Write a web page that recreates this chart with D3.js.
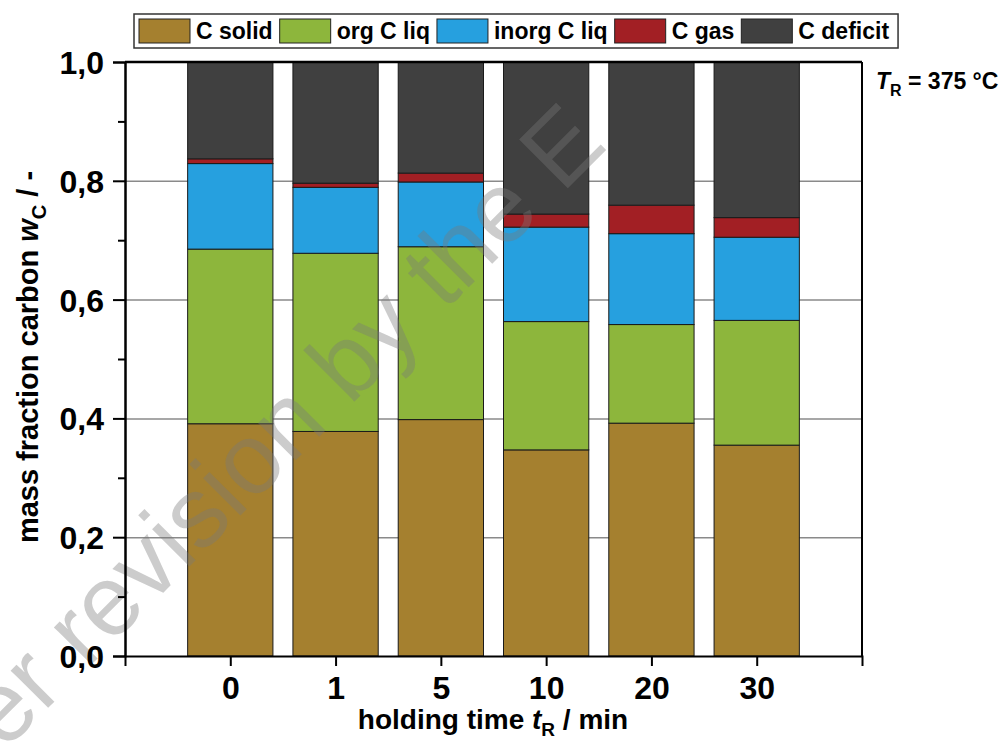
<!DOCTYPE html>
<html lang="en">

<head>
    <meta charset="UTF-8">
    <title>Carbon mass fraction</title>
    <script src="https://d3js.org/d3.v7.min.js"></script>
    <style>
        body {
            margin: 0;
            background: #fff;
        }

        text {
            font-family: "Liberation Sans", Arial, sans-serif;
            font-weight: bold;
            fill: #000;
        }

        .gridlines line {
            stroke: #8a8a8a;
            stroke-width: 1.5px;
        }

        .gridlines .domain {
            display: none;
        }

        .axis path,
        .axis line {
            stroke: #000;
            stroke-width: 2px;
        }

        .bar {
            stroke: #1a1a1a;
            stroke-width: 1px;
        }
    </style>
</head>

<body>
    <svg id="chart" width="1006" height="742"></svg>

    <script>
        // holding time categories (min)
        const holdingTimes = ['0', '1', '5', '10', '20', '30'];

        // carbon mass fractions per series
        const cSolid = [0.391, 0.378, 0.398, 0.347, 0.392, 0.355];
        const orgCLiq = [0.294, 0.300, 0.291, 0.216, 0.166, 0.210];
        const inorgCLiq = [0.144, 0.111, 0.109, 0.159, 0.153, 0.140];
        const cGas = [0.008, 0.007, 0.015, 0.022, 0.048, 0.033];
        const cDeficit = [0.163, 0.204, 0.187, 0.256, 0.241, 0.262];

        const seriesNames = ['C solid', 'org C liq', 'inorg C liq', 'C gas', 'C deficit'];
        const seriesColors = ['#A5802F', '#8DB63C', '#26A0DF', '#A21F24', '#404040'];
        const yTicks = [0, 0.2, 0.4, 0.6, 0.8, 1.0];
        const yMinorTicks = [0.1, 0.3, 0.5, 0.7, 0.9];

        const svg = d3.select('#chart');
        const plot = { left: 125, right: 862, top: 62, bottom: 656 };

        // build rows for the stack
        const seriesValues = [cSolid, orgCLiq, inorgCLiq, cGas, cDeficit];
        let rows = holdingTimes.map((t, i) => {
            let row = { time: t };
            seriesNames.forEach((s, j) => row[s] = seriesValues[j][i]);
            return row;
        });
        let stacked = d3.stack().keys(seriesNames)(rows);

        const xScale = d3.scalePoint()
            .domain(holdingTimes)
            .range([plot.left, plot.right])
            .padding(1);
        const barWidth = xScale.step() * 0.81;

        const yScale = d3.scaleLinear()
            .domain([0, 1])
            .range([plot.bottom, plot.top]);

        const colorScale = d3.scaleOrdinal().domain(seriesNames).range(seriesColors);

        // gridlines behind the bars
        svg.append('g')
            .attr('class', 'gridlines')
            .attr('transform', `translate(${plot.left},0)`)
            .call(d3.axisLeft(yScale)
                .tickValues([0.2, 0.4, 0.6, 0.8])
                .tickSize(-(plot.right - plot.left))
                .tickFormat(''));

        // stacked bars
        svg.append('g').selectAll('g')
            .data(stacked)
            .join('g')
            .attr('fill', d => colorScale(d.key))
            .selectAll('rect')
            .data(d => d)
            .join('rect')
            .attr('class', 'bar')
            .attr('x', d => xScale(d.data.time) - barWidth / 2)
            .attr('y', d => yScale(d[1]))
            .attr('width', barWidth)
            .attr('height', d => yScale(d[0]) - yScale(d[1]));

        // faint diagonal watermark
        svg.append('text')
            .attr('transform', 'translate(4,752) rotate(-45)')
            .style('font-size', '100px')
            .style('font-weight', 'normal')
            .style('fill', 'rgba(120,120,120,0.38)')
            .text('er revision by the E');

        // frame: top and right lines
        svg.append('line')
            .attr('x1', plot.left).attr('x2', plot.right)
            .attr('y1', yScale(1)).attr('y2', yScale(1))
            .attr('stroke', '#000').attr('stroke-width', 2.5);
        svg.append('line')
            .attr('x1', plot.right).attr('x2', plot.right)
            .attr('y1', yScale(1)).attr('y2', plot.bottom)
            .attr('stroke', '#000').attr('stroke-width', 2);

        // minor y ticks
        svg.append('g')
            .attr('class', 'axis')
            .attr('transform', `translate(${plot.left},0)`)
            .call(d3.axisLeft(yScale).tickValues(yMinorTicks).tickSize(7).tickSizeOuter(0).tickFormat(''));

        // y axis
        let yAxis = svg.append('g')
            .attr('class', 'axis')
            .attr('transform', `translate(${plot.left},0)`)
            .call(d3.axisLeft(yScale)
                .tickValues(yTicks)
                .tickSize(12)
                .tickSizeOuter(12)
                .tickPadding(9)
                .tickFormat(d => d3.format('.1f')(d).replace('.', ',')));
        yAxis.selectAll('text')
            .style('font-size', '32px')
            .attr('dy', '0.36em');

        // x axis
        let xAxis = svg.append('g')
            .attr('class', 'axis')
            .attr('transform', `translate(0,${plot.bottom})`)
            .call(d3.axisBottom(xScale)
                .tickSize(10)
                .tickSizeOuter(10)
                .tickPadding(10));
        xAxis.selectAll('text')
            .style('font-size', '32px');

        // axis titles
        let xTitle = svg.append('text')
            .attr('x', 493)
            .attr('y', 729)
            .attr('text-anchor', 'middle')
            .style('font-size', '28px');
        xTitle.append('tspan').text('holding time ');
        xTitle.append('tspan').style('font-style', 'italic').text('t');
        xTitle.append('tspan').attr('dy', 7).style('font-size', '19px').text('R');
        xTitle.append('tspan').attr('dy', -7).text(' / min');

        let yTitle = svg.append('text')
            .attr('transform', 'translate(38,357) rotate(-90)')
            .attr('text-anchor', 'middle')
            .style('font-size', '29px');
        yTitle.append('tspan').text('mass fraction carbon ');
        yTitle.append('tspan').style('font-style', 'italic').text('w');
        yTitle.append('tspan').attr('dy', 8).style('font-size', '20px').text('C');
        yTitle.append('tspan').attr('dy', -8).text(' / -');

        // reactor temperature note
        let note = svg.append('text')
            .attr('x', 876)
            .attr('y', 89)
            .style('font-size', '23px');
        note.append('tspan').style('font-style', 'italic').text('T');
        note.append('tspan').attr('dy', 7).style('font-size', '16px').text('R');
        note.append('tspan').attr('dy', -7).text(' = 375 °C');

        // legend
        let legend = svg.append('g').attr('class', 'legend');
        let legendBox = legend.append('rect')
            .attr('x', 134).attr('y', 14)
            .attr('width', 762).attr('height', 34)
            .attr('fill', '#fff')
            .attr('stroke', '#333')
            .attr('stroke-width', 1.5);

        let lx = 139;
        seriesNames.forEach((name, i) => {
            legend.append('rect')
                .attr('x', lx).attr('y', 19)
                .attr('width', 51).attr('height', 24)
                .attr('fill', seriesColors[i])
                .attr('stroke', '#222')
                .attr('stroke-width', 1);
            let t = legend.append('text')
                .attr('x', lx + 57).attr('y', 39)
                .style('font-size', '23px')
                .text(name);
            lx += 57 + t.node().getComputedTextLength() + 7;
        });
        legendBox.attr('width', lx - 134 + 2);
    </script>
</body>

</html>
